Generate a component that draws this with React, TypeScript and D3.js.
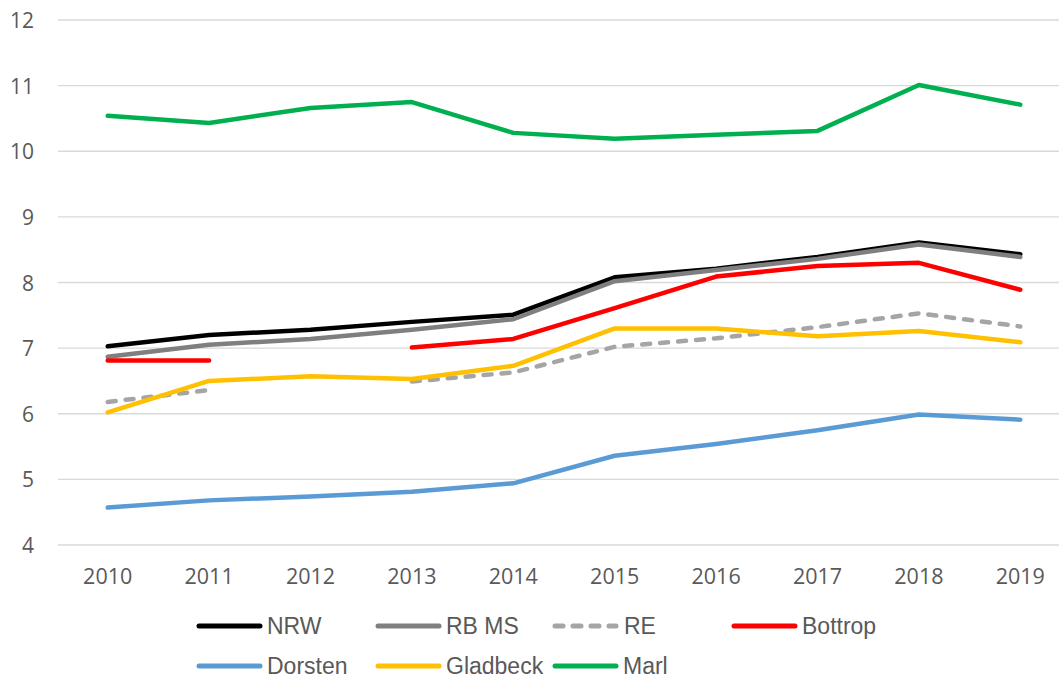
import React from "react";
import * as d3 from "d3";

const years = ["2010", "2011", "2012", "2013", "2014", "2015", "2016", "2017", "2018", "2019"];
const yTicks = [4, 5, 6, 7, 8, 9, 10, 11, 12];

const nrw = [7.03, 7.20, 7.28, 7.40, 7.51, 8.08, 8.21, 8.39, 8.61, 8.43];
const rbms = [6.87, 7.05, 7.14, 7.28, 7.44, 8.02, 8.19, 8.36, 8.58, 8.39];
const re = [6.18, 6.36, null, 6.49, 6.63, 7.02, 7.15, 7.32, 7.53, 7.33];
const bottrop = [6.81, 6.81, null, 7.01, 7.14, 7.61, 8.09, 8.25, 8.30, 7.89];
const dorsten = [4.57, 4.68, 4.74, 4.81, 4.94, 5.36, 5.54, 5.75, 5.99, 5.91];
const gladbeck = [6.02, 6.50, 6.57, 6.53, 6.73, 7.30, 7.30, 7.18, 7.26, 7.09];
const marl = [10.54, 10.43, 10.66, 10.75, 10.28, 10.19, 10.25, 10.31, 11.01, 10.71];

const seriesNames = ["NRW", "RB MS", "RE", "Bottrop", "Dorsten", "Gladbeck", "Marl"];
const seriesValues = [nrw, rbms, re, bottrop, dorsten, gladbeck, marl];
const seriesColors = ["#000000", "#7f7f7f", "#a5a5a5", "#ff0000", "#5b9bd5", "#ffc000", "#00b050"];
const seriesDashed = [false, false, true, false, false, false, false];

const W = 1059;
const H = 680;

export default function App() {
  const x = d3.scalePoint<string>().domain(years).range([57, 1071]).padding(0.5);
  const y = d3.scaleLinear().domain([4, 12]).range([545, 20]);
  const line = d3
    .line<number | null>()
    .defined((d) => d !== null)
    .x((_, i) => x(years[i]) as number)
    .y((d) => y(d as number));

  const legendCols = [197, 376, 553, 732];
  const legendRows = [626, 666];
  const axisFont = "'Open Sans', 'Liberation Sans', sans-serif";

  return (
    <svg width={W} height={H} style={{ position: "absolute", left: 0, top: 0, background: "#fff" }}>
      <rect x={0} y={0} width={W} height={H} fill="#fff" />
      {yTicks.map((t) => (
        <g key={t}>
          <line x1={58} x2={W} y1={y(t)} y2={y(t)} stroke="#d9d9d9" strokeWidth={1.3} />
          <text x={34} y={y(t)} textAnchor="end" dominantBaseline="central" fontFamily={axisFont} fontSize={21} fill="#595959">
            {t}
          </text>
        </g>
      ))}
      {years.map((yr) => (
        <text key={yr} x={x(yr)} y={584} textAnchor="middle" fontFamily={axisFont} fontSize={21.5} fill="#595959">
          {yr}
        </text>
      ))}
      {seriesValues.map((vals, i) => (
        <path
          key={seriesNames[i]}
          d={line(vals) || ""}
          fill="none"
          stroke={seriesColors[i]}
          strokeWidth={4.5}
          strokeLinejoin="round"
          strokeLinecap="round"
          strokeDasharray={seriesDashed[i] ? "8 10" : undefined}
        />
      ))}
      {seriesNames.map((name, i) => {
        const col = i < 4 ? i : i - 4;
        const row = i < 4 ? 0 : 1;
        const lx = legendCols[col];
        const ly = legendRows[row];
        return (
          <g key={name}>
            <line
              x1={lx + 2}
              x2={lx + 63}
              y1={ly}
              y2={ly}
              stroke={seriesColors[i]}
              strokeWidth={5}
              strokeLinecap="round"
              strokeDasharray={seriesDashed[i] ? "8 10" : undefined}
            />
            <text
              x={lx + (seriesDashed[i] ? 71 : 70)}
              y={ly}
              dominantBaseline="central"
              fontFamily="'Liberation Sans', Arial, sans-serif"
              fontSize={23}
              fill="#595959"
            >
              {name}
            </text>
          </g>
        );
      })}
    </svg>
  );
}
